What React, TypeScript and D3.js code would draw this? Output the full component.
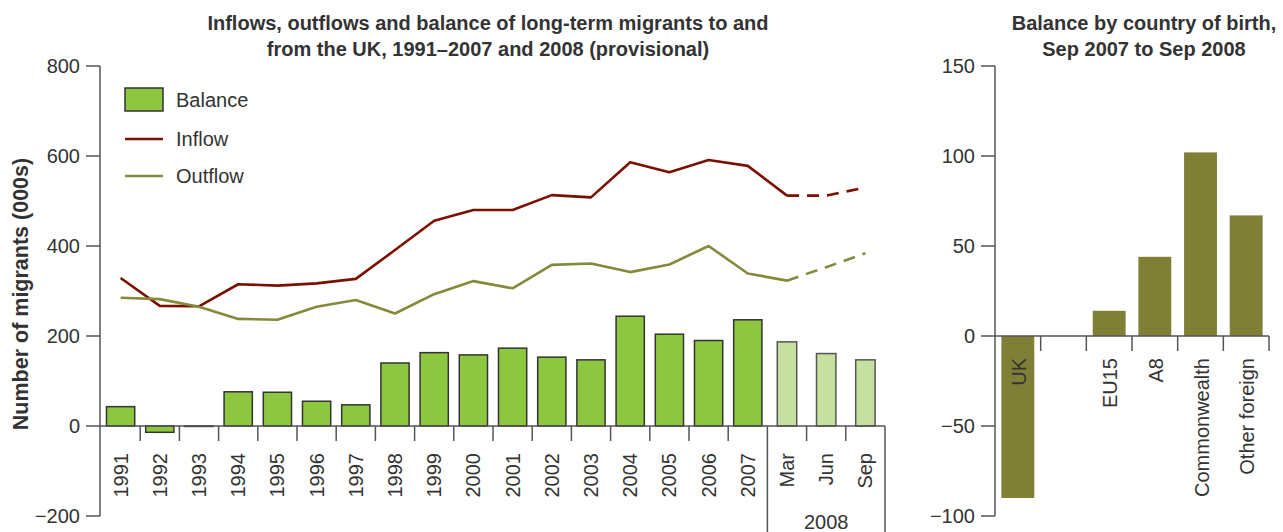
import React from 'react';
import * as d3 from 'd3';

const categories = ['1991','1992','1993','1994','1995','1996','1997','1998','1999','2000','2001','2002','2003','2004','2005','2006','2007','Mar','Jun','Sep'];
const balance = [43,-14,-1,76,75,55,47,140,163,158,173,153,147,244,204,190,236,187,161,147];
const inflow = [329,267,266,315,312,317,327,391,456,480,480,513,508,586,564,591,578,512,512,530];
const outflow = [285,282,265,238,236,265,280,250,293,322,306,358,361,342,359,400,339,323,353,384];
const provisional = [false,false,false,false,false,false,false,false,false,false,false,false,false,false,false,false,false,true,true,true];
const leftTicks = [-200,0,200,400,600,800];

const birthCategories = ['UK','','EU15','A8','Commonwealth','Other foreign'];
const birthBalance: (number|null)[] = [-90,null,14,44,102,67];
const rightTicks = [-100,-50,0,50,100,150];

const FONT = '"Liberation Sans", Arial, Helvetica, sans-serif';
const TXT = '#333';
const AX = '#555';

export default function App() {
  const x = d3.scaleBand<string>().domain(categories).range([101, 885]).padding(0);
  const y = d3.scaleLinear().domain([-200, 800]).range([516, 66]);
  const bw = x.bandwidth();
  const cx = (i: number) => (x(categories[i]) as number) + bw / 2;

  const lineSeg = (vals: number[], from: number, to: number) =>
    d3.line<[number, number]>().x(d => cx(d[0])).y(d => y(d[1]))(
      vals.map((v, i) => [i, v] as [number, number]).filter(d => d[0] >= from && d[0] <= to)
    ) as string;

  const firstProv = provisional.indexOf(true);
  const solidEnd = firstProv;

  const xr = d3.scaleBand<string>().domain(birthCategories.map((c, i) => c + '#' + i)).range([995, 1269]).padding(0);
  const yr = d3.scaleLinear().domain([-100, 150]).range([516, 66]);
  const rbw = xr.bandwidth();

  const provStart = x(categories[firstProv]) as number;

  return (
    <svg width={1283} height={532} style={{ position: 'absolute', left: 0, top: 0 }} fontFamily={FONT}>
      <rect width={1283} height={532} fill="#fff" />
      {/* Left title */}
      <text x={488} y={30} textAnchor="middle" fontSize={20} fontWeight="bold" fill={TXT}>Inflows, outflows and balance of long-term migrants to and</text>
      <text x={488} y={56} textAnchor="middle" fontSize={20} fontWeight="bold" fill={TXT}>from the UK, 1991–2007 and 2008 (provisional)</text>

      {/* Left y axis */}
      <line x1={100} x2={100} y1={y(800)} y2={y(-200)} stroke={AX} strokeWidth={1.5} />
      {leftTicks.map(t => (
        <g key={t}>
          <line x1={86} x2={100} y1={y(t)} y2={y(t)} stroke={AX} strokeWidth={1.5} />
          <text x={80} y={y(t)} dy="0.35em" textAnchor="end" fontSize={20} fill={TXT}>{t < 0 ? '−' + Math.abs(t) : t}</text>
        </g>
      ))}
      <text transform={`translate(20,294) rotate(-90)`} textAnchor="middle" dy="0.35em" fontSize={21.5} fontWeight="bold" fill={TXT}>Number of migrants (000s)</text>

      {/* Bars */}
      {balance.map((v, i) => {
        const w = provisional[i] ? bw * 0.495 : bw * 0.72;
        const y0 = y(Math.max(0, v));
        const h = Math.abs(y(v) - y(0));
        return (
          <rect key={i} x={cx(i) - w / 2} y={y0} width={w} height={h}
            fill={provisional[i] ? '#c6e0a0' : '#8dc63f'}
            stroke={provisional[i] ? '#555' : '#333'} strokeWidth={1.5} />
        );
      })}

      {/* x axis */}
      <line x1={100} x2={885} y1={y(0)} y2={y(0)} stroke={AX} strokeWidth={1.5} />
      {categories.map((c, i) => {
        const xx = x(c) as number;
        if (i === 0) return null;
        const long = i === firstProv;
        return <line key={c} x1={xx} x2={xx} y1={y(0)} y2={long ? 532 : y(0) + 15} stroke={AX} strokeWidth={1.5} />;
      })}
      <line x1={885} x2={885} y1={y(0)} y2={532} stroke={AX} strokeWidth={1.5} />
      {categories.map((c, i) => (
        <text key={c} transform={`translate(${cx(i)},453) rotate(-90)`} textAnchor="end" dy="0.35em" fontSize={20} fill={TXT}>{c}</text>
      ))}
      <text x={(provStart + 885) / 2} y={529} textAnchor="middle" fontSize={20} fill={TXT}>2008</text>

      {/* Lines */}
      <path d={lineSeg(inflow, 0, solidEnd)} fill="none" stroke="#7a1000" strokeWidth={2.6} strokeLinejoin="round" />
      <path d={lineSeg(inflow, solidEnd, categories.length - 1)} fill="none" stroke="#7a1000" strokeWidth={2.6} strokeDasharray="12,8" />
      <path d={lineSeg(outflow, 0, solidEnd)} fill="none" stroke="#85893a" strokeWidth={2.6} strokeLinejoin="round" />
      <path d={lineSeg(outflow, solidEnd, categories.length - 1)} fill="none" stroke="#85893a" strokeWidth={2.6} strokeDasharray="12,8" />

      {/* Legend */}
      <rect x={125} y={88} width={38} height={23} fill="#8dc63f" stroke="#333" strokeWidth={1.5} />
      <text x={176} y={100} dy="0.35em" fontSize={20} fill={TXT}>Balance</text>
      <line x1={125} x2={163} y1={139} y2={139} stroke="#7a1000" strokeWidth={2.6} />
      <text x={176} y={139} dy="0.35em" fontSize={20} fill={TXT}>Inflow</text>
      <line x1={125} x2={163} y1={176} y2={176} stroke="#85893a" strokeWidth={2.6} />
      <text x={176} y={176} dy="0.35em" fontSize={20} fill={TXT}>Outflow</text>

      {/* Right chart */}
      <text x={1144} y={30} textAnchor="middle" fontSize={20} fontWeight="bold" fill={TXT}>Balance by country of birth,</text>
      <text x={1144} y={56} textAnchor="middle" fontSize={20} fontWeight="bold" fill={TXT}>Sep 2007 to Sep 2008</text>
      <line x1={995} x2={995} y1={yr(150)} y2={yr(-100)} stroke={AX} strokeWidth={1.5} />
      {rightTicks.map(t => (
        <g key={t}>
          <line x1={981} x2={995} y1={yr(t)} y2={yr(t)} stroke={AX} strokeWidth={1.5} />
          <text x={975} y={yr(t)} dy="0.35em" textAnchor="end" fontSize={20} fill={TXT}>{t < 0 ? '−' + Math.abs(t) : t}</text>
        </g>
      ))}
      {birthBalance.map((v, i) => {
        if (v === null) return null;
        const key = birthCategories[i] + '#' + i;
        const w = rbw * 0.72;
        const c = (xr(key) as number) + rbw / 2;
        return <rect key={key} x={c - w / 2} y={yr(Math.max(0, v))} width={w} height={Math.abs(yr(v) - yr(0))} fill="#7f8036" />;
      })}
      <line x1={995} x2={1269} y1={yr(0)} y2={yr(0)} stroke={AX} strokeWidth={1.5} />
      {birthCategories.map((c, i) => {
        const key = c + '#' + i;
        const xx = (xr(key) as number) + rbw;
        return <line key={key} x1={xx} x2={xx} y1={yr(0)} y2={yr(0) + 15} stroke={AX} strokeWidth={1.5} />;
      })}
      {birthCategories.map((c, i) => {
        const key = c + '#' + i;
        const c0 = (xr(key) as number) + rbw / 2;
        return <text key={key} transform={`translate(${c0 + 1},358) rotate(-90)`} textAnchor="end" dy="0.35em" fontSize={20} fill={TXT}>{c}</text>;
      })}
    </svg>
  );
}
